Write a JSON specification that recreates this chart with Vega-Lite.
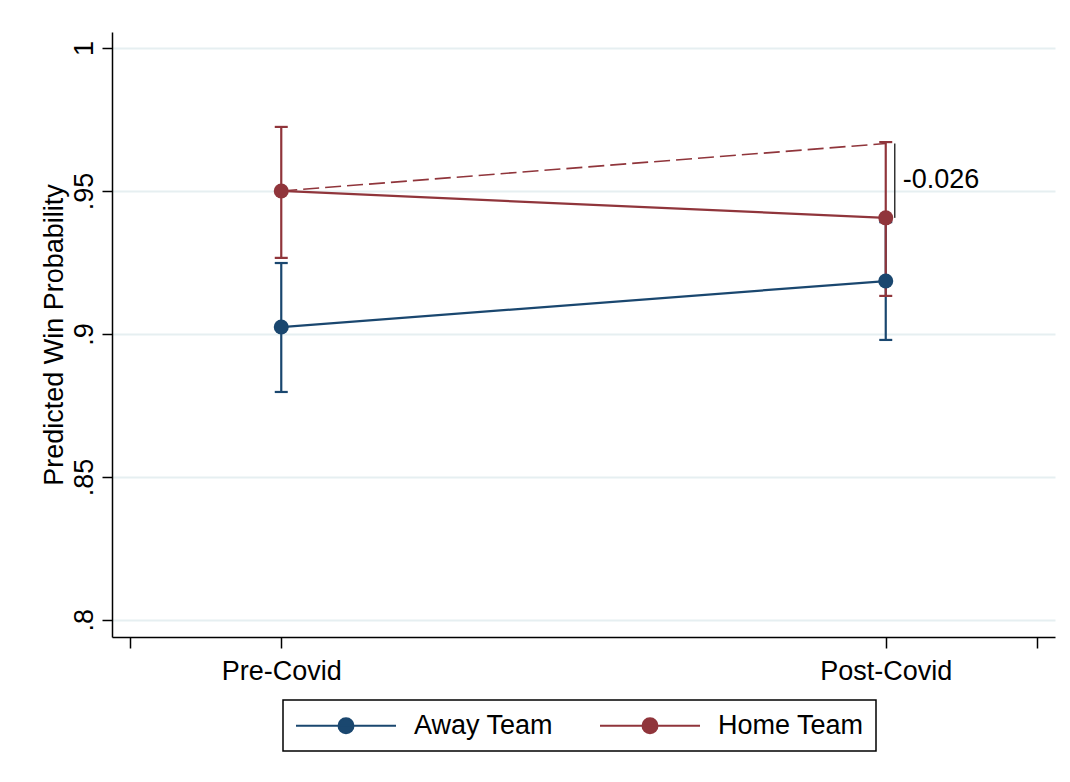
{
  "$schema": "https://vega.github.io/schema/vega-lite/v6.json",
  "width": 943,
  "height": 605,
  "autosize": {"type": "none"},
  "padding": {"left": 112, "top": 32, "right": 15, "bottom": 145},
  "background": "white",
  "config": {
    "font": "Liberation Sans",
    "view": {"stroke": null}
  },
  "datasets": {
    "margins": [
      {"team": "Away Team", "period": 1, "est": 0.9024, "lo": 0.8797, "hi": 0.9248},
      {"team": "Away Team", "period": 2, "est": 0.9185, "lo": 0.8979, "hi": 0.9391},
      {"team": "Home Team", "period": 1, "est": 0.95, "lo": 0.9266, "hi": 0.9724},
      {"team": "Home Team", "period": 2, "est": 0.9406, "lo": 0.9133, "hi": 0.9671}
    ],
    "counterfactual": [
      {"period": 1, "value": 0.95},
      {"period": 2, "value": 0.9666}
    ],
    "gap": [
      {"period": 2, "lo": 0.9406, "hi": 0.9666, "label": "-0.026"}
    ]
  },
  "layer": [
    {
      "data": {"name": "counterfactual"},
      "mark": {"type": "line", "color": "#90353b", "strokeWidth": 1.6, "strokeDash": [16, 6]},
      "encoding": {
        "x": {"field": "period", "type": "quantitative", "scale": {"domain": [0.72, 2.28], "nice": false, "zero": false},
          "axis": {
            "values": [0.75, 1, 2, 2.25],
            "labelExpr": "datum.value == 1 ? 'Pre-Covid' : datum.value == 2 ? 'Post-Covid' : ''",
            "title": null, "grid": false,
            "domainColor": "#000000", "domainWidth": 1.5,
            "tickColor": "#000000", "tickWidth": 1.5, "tickSize": 11,
            "labelFontSize": 27, "labelColor": "#000000", "labelPadding": 10, "labelFlush": false, "labelOverlap": false
          }
        },
        "y": {"field": "value", "type": "quantitative", "scale": {"domain": [0.794, 1.0056], "nice": false, "zero": false},
          "axis": {
            "values": [0.8, 0.85, 0.9, 0.95, 1],
            "labelExpr": "datum.value == 1 ? '1' : replace(format(datum.value, '.2~f'), '0.', '.')",
            "title": "Predicted Win Probability",
            "titleFontSize": 27, "titleFontWeight": "normal", "titleColor": "#000000",
            "titleAngle": -90, "titleAlign": "center", "titleBaseline": "alphabetic",
            "titleX": -50, "titleY": 302.5,
            "grid": true, "gridColor": "#e6eff1", "gridWidth": 2,
            "domainColor": "#000000", "domainWidth": 1.5,
            "tickColor": "#000000", "tickWidth": 1.5, "tickSize": 10,
            "labelFontSize": 27, "labelColor": "#000000", "labelPadding": 10,
            "labelAngle": -90, "labelAlign": "center", "labelBaseline": "alphabetic",
            "labelFlush": false, "labelOverlap": false
          }
        }
      }
    },
    {
      "data": {"name": "margins"},
      "mark": {"type": "rule", "strokeWidth": 2.2},
      "encoding": {
        "x": {"field": "period", "type": "quantitative"},
        "y": {"field": "lo", "type": "quantitative"},
        "y2": {"field": "hi"},
        "color": {"field": "team", "type": "nominal",
          "scale": {"domain": ["Away Team", "Home Team"], "range": ["#1a476f", "#90353b"]},
          "legend": {
            "title": null,
            "orient": "none", "legendX": 171, "legendY": 668,
            "direction": "horizontal",
            "strokeColor": "#000000", "padding": 12,
            "symbolType": "M-1,0H7M3.6,0A0.6,0.6 0 1,1 2.4,0A0.6,0.6 0 1,1 3.6,0Z",
            "symbolSize": 625, "symbolStrokeWidth": 2,
            "labelFontSize": 27, "labelColor": "#000000", "labelOffset": 92,
            "columnPadding": 42,
            "encode": {
              "legend": {"update": {"strokeWidth": {"value": 1.5}}},
              "symbols": {"update": {"fill": {"scale": "color", "field": "value"}, "stroke": {"scale": "color", "field": "value"}}}
            }
          }
        }
      }
    },
    {
      "data": {"name": "margins"},
      "mark": {"type": "tick", "orient": "horizontal", "size": 13, "thickness": 2.2, "opacity": 1},
      "encoding": {
        "x": {"field": "period", "type": "quantitative"},
        "y": {"field": "lo", "type": "quantitative"},
        "color": {"field": "team", "type": "nominal"}
      }
    },
    {
      "data": {"name": "margins"},
      "mark": {"type": "tick", "orient": "horizontal", "size": 13, "thickness": 2.2, "opacity": 1},
      "encoding": {
        "x": {"field": "period", "type": "quantitative"},
        "y": {"field": "hi", "type": "quantitative"},
        "color": {"field": "team", "type": "nominal"}
      }
    },
    {
      "data": {"name": "margins"},
      "mark": {"type": "line", "strokeWidth": 2.2},
      "encoding": {
        "x": {"field": "period", "type": "quantitative"},
        "y": {"field": "est", "type": "quantitative"},
        "color": {"field": "team", "type": "nominal"}
      }
    },
    {
      "data": {"name": "margins"},
      "mark": {"type": "point", "filled": true, "size": 225, "opacity": 1},
      "encoding": {
        "x": {"field": "period", "type": "quantitative"},
        "y": {"field": "est", "type": "quantitative"},
        "color": {"field": "team", "type": "nominal"}
      }
    },
    {
      "data": {"name": "gap"},
      "mark": {"type": "rule", "color": "#333333", "strokeWidth": 1.5, "xOffset": 9},
      "encoding": {
        "x": {"field": "period", "type": "quantitative"},
        "y": {"field": "lo", "type": "quantitative"},
        "y2": {"field": "hi"}
      }
    },
    {
      "data": {"name": "gap"},
      "mark": {"type": "text", "align": "left", "baseline": "middle", "dx": 17, "dy": 36, "fontSize": 27, "color": "#000000"},
      "encoding": {
        "x": {"field": "period", "type": "quantitative"},
        "y": {"field": "hi", "type": "quantitative"},
        "text": {"field": "label"}
      }
    }
  ]
}
